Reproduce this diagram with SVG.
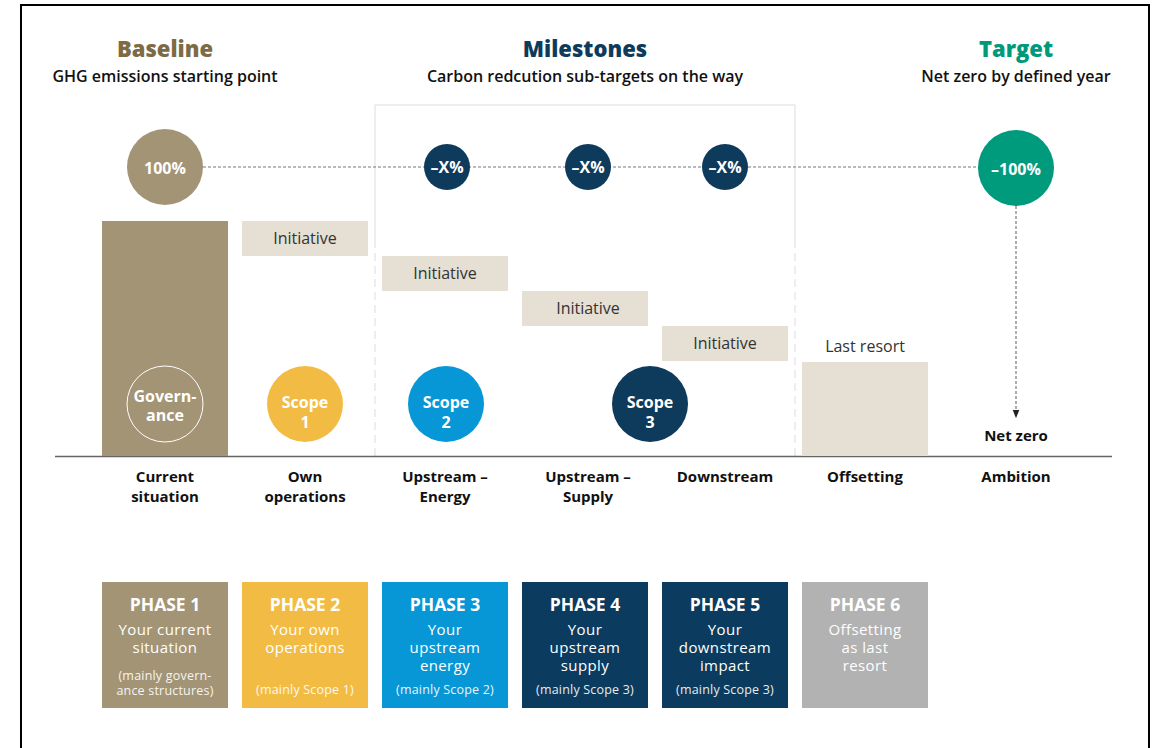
<svg xmlns="http://www.w3.org/2000/svg" width="1154" height="748" viewBox="0 0 1154 748">
<defs>
<style>
text{font-family:"Open Sans","Noto Sans","Liberation Sans",sans-serif;text-anchor:middle}
.ttl{font-size:22px;font-weight:800}
.sub{font-size:16px;font-weight:600;fill:#111}
.cw{font-size:16px;font-weight:700;fill:#fff}
.ini{fill:#e5dfd4}
.it{font-size:16px;fill:#333}
.lbl{font-size:15px;font-weight:700;fill:#111}
.ph{font-size:17.5px;font-weight:700;fill:#fff}
.pt{font-size:15px;fill:#fff;letter-spacing:.4px}
.ps{font-size:12.5px;fill:#fff;opacity:.9;letter-spacing:.2px}
.dot{stroke:#777;stroke-width:1.2;stroke-dasharray:3 2;fill:none}
</style>
<marker id="ah" viewBox="0 0 10 10" refX="5" refY="5" markerWidth="7" markerHeight="7" orient="auto">
<path d="M0,1 L10,5 L0,9 z" fill="#222"/>
</marker>
</defs>
<rect x="0" y="0" width="1154" height="748" fill="#fff"/>
<path d="M21,760 V5 H1149 V760" fill="none" stroke="#000" stroke-width="2"/>

<g id="headers">
<text x="165" y="57" class="ttl" fill="#7d6b45">Baseline</text>
<text x="165" y="82" class="sub">GHG emissions starting point</text>
<text x="585" y="57" class="ttl" fill="#0e3a5c">Milestones</text>
<text x="585" y="82" class="sub">Carbon redcution sub-targets on the way</text>
<text x="1016" y="57" class="ttl" fill="#00997a">Target</text>
<text x="1016" y="82" class="sub">Net zero by defined year</text>
</g>

<g id="milestone-frame" fill="none" stroke="#ddd" stroke-width="1">
<path d="M375,240 V105 H795 V240"/>
<path d="M375,240 V456 M795,240 V456" stroke-dasharray="8 5"/>
</g>

<g id="connectors">
<line x1="203" y1="167" x2="978" y2="167" class="dot"/>
<line x1="1016" y1="206" x2="1016" y2="414" class="dot" marker-end="url(#ah)"/>
<line x1="55" y1="456.5" x2="1112" y2="456.5" stroke="#666" stroke-width="1.5"/>
</g>

<g id="baseline-circle"><circle cx="165" cy="167" r="38" fill="#a39475"/><text x="165" y="173.5" class="cw" font-size="18">100%</text></g>
<g id="m1"><circle cx="447" cy="167" r="23" fill="#0e3a5c"/><text x="447" y="173" class="cw" font-size="15">–X%</text></g>
<g id="m2"><circle cx="588" cy="167" r="23" fill="#0e3a5c"/><text x="588" y="173" class="cw" font-size="15">–X%</text></g>
<g id="m3"><circle cx="725" cy="167" r="23" fill="#0e3a5c"/><text x="725" y="173" class="cw" font-size="15">–X%</text></g>
<g id="target-circle"><circle cx="1016" cy="168" r="38" fill="#009b7d"/><text x="1016" y="175" class="cw" font-size="20">–100%</text></g>

<g id="current">
<rect x="102" y="221" width="126" height="235" fill="#a39475"/>
<circle cx="165" cy="404" r="38" fill="none" stroke="#fff" stroke-width="1"/>
<text x="165" y="402" class="cw" font-size="13.5">Govern-</text>
<text x="165" y="421" class="cw" font-size="13.5">ance</text>
</g>
<g id="ini1"><rect x="242" y="221" width="126" height="35" class="ini"/><text x="305" y="243.5" class="it">Initiative</text></g>
<g id="ini2"><rect x="382" y="256" width="126" height="35" class="ini"/><text x="445" y="278.5" class="it">Initiative</text></g>
<g id="ini3"><rect x="522" y="291" width="126" height="35" class="ini"/><text x="588" y="313.5" class="it">Initiative</text></g>
<g id="ini4"><rect x="662" y="326" width="126" height="35" class="ini"/><text x="725" y="348.5" class="it">Initiative</text></g>
<g id="offset"><rect x="802" y="362" width="126" height="94" class="ini"/><text x="865" y="352" class="it" font-size="15.5">Last resort</text></g>
<g id="netzero"><text x="1016" y="441" class="lbl" font-size="16.5">Net zero</text></g>

<g id="scope1"><circle cx="305" cy="404" r="38" fill="#f2bc44"/><text x="305" y="408" class="cw">Scope</text><text x="305" y="428" class="cw">1</text></g>
<g id="scope2"><circle cx="446" cy="404" r="38" fill="#0797d6"/><text x="446" y="408" class="cw">Scope</text><text x="446" y="428" class="cw">2</text></g>
<g id="scope3"><circle cx="650" cy="404" r="38" fill="#0e3a5c"/><text x="650" y="408" class="cw">Scope</text><text x="650" y="428" class="cw">3</text></g>

<g id="labels">
<text x="165" y="482" class="lbl">Current</text><text x="165" y="502" class="lbl">situation</text>
<text x="305" y="482" class="lbl">Own</text><text x="305" y="502" class="lbl">operations</text>
<text x="445" y="482" class="lbl">Upstream –</text><text x="445" y="502" class="lbl">Energy</text>
<text x="588" y="482" class="lbl">Upstream –</text><text x="588" y="502" class="lbl">Supply</text>
<text x="725" y="482" class="lbl">Downstream</text>
<text x="865" y="482" class="lbl">Offsetting</text>
<text x="1016" y="482" class="lbl">Ambition</text>
</g>

<g id="phase1"><rect x="102" y="582" width="126" height="126" fill="#a39475"/>
<text x="165" y="611" class="ph">PHASE 1</text><text x="165" y="635" class="pt">Your current</text><text x="165" y="653" class="pt">situation</text>
<text x="165" y="680" class="ps">(mainly govern-</text><text x="165" y="695" class="ps">ance structures)</text></g>
<g id="phase2"><rect x="242" y="582" width="126" height="126" fill="#f2bc44"/>
<text x="305" y="611" class="ph">PHASE 2</text><text x="305" y="635" class="pt">Your own</text><text x="305" y="653" class="pt">operations</text>
<text x="305" y="694" class="ps">(mainly Scope 1)</text></g>
<g id="phase3"><rect x="382" y="582" width="126" height="126" fill="#0797d6"/>
<text x="445" y="611" class="ph">PHASE 3</text><text x="445" y="635" class="pt">Your</text><text x="445" y="653" class="pt">upstream</text><text x="445" y="671" class="pt">energy</text>
<text x="445" y="694" class="ps">(mainly Scope 2)</text></g>
<g id="phase4"><rect x="522" y="582" width="126" height="126" fill="#0b3b5e"/>
<text x="585" y="611" class="ph">PHASE 4</text><text x="585" y="635" class="pt">Your</text><text x="585" y="653" class="pt">upstream</text><text x="585" y="671" class="pt">supply</text>
<text x="585" y="694" class="ps">(mainly Scope 3)</text></g>
<g id="phase5"><rect x="662" y="582" width="126" height="126" fill="#0b3b5e"/>
<text x="725" y="611" class="ph">PHASE 5</text><text x="725" y="635" class="pt">Your</text><text x="725" y="653" class="pt">downstream</text><text x="725" y="671" class="pt">impact</text>
<text x="725" y="694" class="ps">(mainly Scope 3)</text></g>
<g id="phase6"><rect x="802" y="582" width="126" height="126" fill="#b2b2b2"/>
<text x="865" y="611" class="ph">PHASE 6</text><text x="865" y="635" class="pt">Offsetting</text><text x="865" y="653" class="pt">as last</text><text x="865" y="671" class="pt">resort</text></g>
</svg>
